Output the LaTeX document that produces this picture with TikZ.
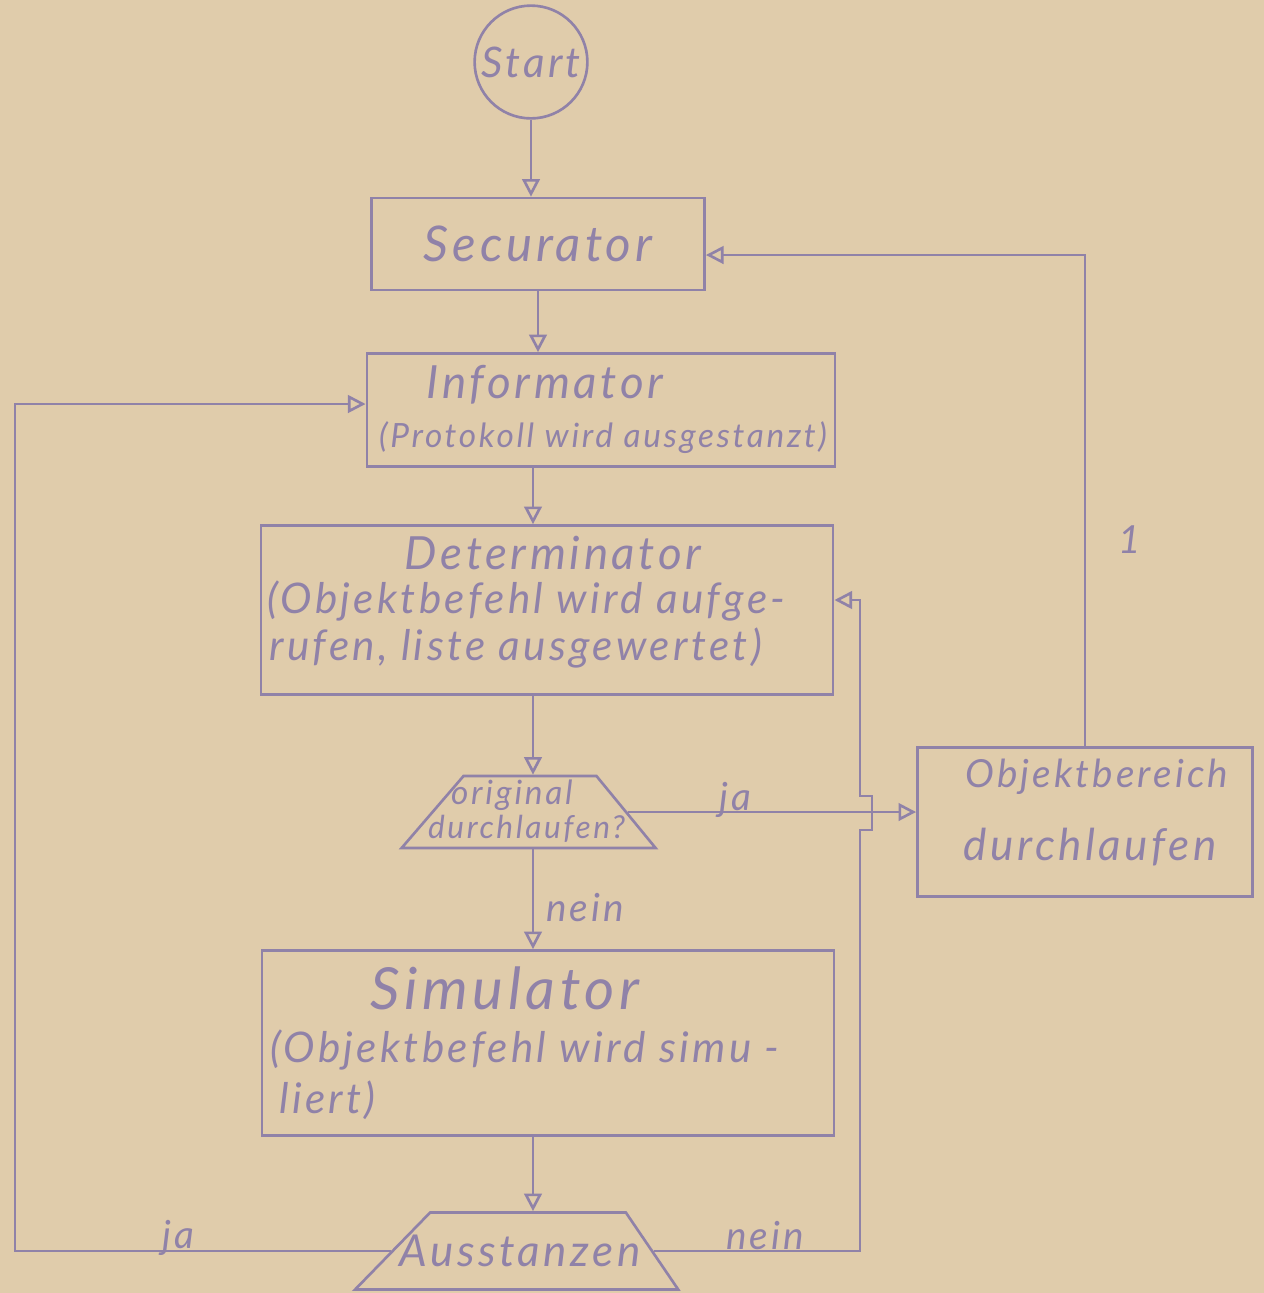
\documentclass[tikz,border=0pt]{standalone}
\usepackage{fontspec}
\usepackage{tikz}
\usetikzlibrary{arrows.meta,positioning,shapes.geometric,calc}
\newfontfamily\handfont{Lato}[LetterSpace=8]
\definecolor{PaperTan}{HTML}{E0CCAB}
\definecolor{InkViolet}{HTML}{9082A8}
\newcommand{\inkfont}[2]{\handfont\itshape\fontsize{#1}{#2}\selectfont}

\begin{document}
\begin{tikzpicture}[
  x=0.01cm, y=-0.01cm,
  ink/.style={draw=InkViolet, line width=0.75pt},
  box/.style={ink, rectangle, inner sep=0pt},
  decide/.style={ink, trapezium, trapezium stretches=true, inner sep=2pt},
  txt/.style={text=InkViolet, inner sep=1pt},
  arr/.style={ink, -{Triangle[open,length=5pt,width=5pt]}},
]

%% ── Paper ────────────────────────────────────────────────────────────────
\fill[PaperTan] (0,0) rectangle (1264,1293);
\useasboundingbox (0,0) rectangle (1264,1293);

%% ── Start / Securator / Informator ──────────────────────────────────────
\node[ink, circle, minimum size=1.08cm, inner sep=0pt, txt,
  font=\inkfont{12}{14}] (start) at (531,62) {Start};
\node[box, txt, minimum width=3.33cm, minimum height=0.92cm,
  font=\inkfont{14}{16}] (sec) at (538,244) {Securator};

\node[box, minimum width=4.68cm, minimum height=1.13cm] (inf) at (601,410) {};
\node[txt, font=\inkfont{13}{15}] (infA) at (545,385) {Informator};
\node[txt, font=\inkfont{9.5}{11}] (infB) at (603,438) {(Protokoll wird ausgestanzt)};

%% ── Determinator ─────────────────────────────────────────────────────────
\node[box, minimum width=5.72cm, minimum height=1.69cm] (det) at (547,610) {};
\node[txt, font=\inkfont{13}{15}] (detA) at (553,553) {Determinator};
\node[txt, font=\inkfont{12}{14}, anchor=west] (detB) at (263,601)
  {(Objektbefehl wird aufge-};
\node[txt, font=\inkfont{12}{14}, anchor=west] (detC) at (265,648)
  {rufen, liste ausgewertet)};

%% ── Abfrage: original durchlaufen? ───────────────────────────────────────
\node[decide, minimum width=2.54cm, minimum height=0.72cm,
  trapezium left angle=65, trapezium right angle=66] (orig) at (530,812) {};
\node[txt, font=\inkfont{9.5}{11}, anchor=west] (origA) at (447,795) {original};
\node[txt, font=\inkfont{9}{11}, anchor=west] (origB) at (424,829) {durchlaufen?};

%% ── Objektbereich ────────────────────────────────────────────────────────
\node[box, minimum width=3.35cm, minimum height=1.49cm] (objb) at (1085,822) {};
\node[txt, font=\inkfont{11}{13}] (objbA) at (1097,777) {Objektbereich};
\node[txt, font=\inkfont{12.5}{15}] (objbB) at (1090,847) {durchlaufen};

%% ── Simulator ────────────────────────────────────────────────────────────
\node[box, minimum width=5.72cm, minimum height=1.85cm] (sim) at (548,1043) {};
\node[txt, font=\inkfont{16.5}{19}] (simA) at (505,988) {Simulator};
\node[txt, font=\inkfont{12}{14}, anchor=west] (simB) at (266,1050)
  {(Objektbefehl wird simu -};
\node[txt, font=\inkfont{12}{14}, anchor=west] (simC) at (275,1100) {liert)};

%% ── Ausstanzen ───────────────────────────────────────────────────────────
\node[decide, minimum width=3.23cm, minimum height=0.77cm,
  trapezium left angle=69, trapezium right angle=75] (ausst) at (528,1251) {};
\node[txt, font=\inkfont{12.5}{14}] (ausstA) at (520,1251) {Ausstanzen};

%% ── Connectors ───────────────────────────────────────────────────────────
\coordinate (spine) at (533,0);
\coordinate (jaturn) at (15,0);
\coordinate (neinturn) at (860,0);

\draw[arr] (start.south) -- (start.south |- sec.north);
\draw[arr] (sec.south) -- (sec.south |- inf.north);
\draw[arr] (spine |- inf.south) -- (spine |- det.north);
\draw[arr] (spine |- det.south) -- (spine |- orig.north);
\draw[arr] (spine |- orig.south) -- (spine |- sim.north);
\draw[arr] (spine |- sim.south) -- (spine |- ausst.north);

\draw[arr] (orig.east) -- (orig.east -| objb.west);
\draw[arr] (objb.north) |- ($(sec.east)+(0,11)$);

\draw[arr] (ausst.east) -- (ausst.east -| neinturn)
  -- ($(orig.east -| neinturn)+(0,18)$) -- ++(12,0) -- ++(0,-34) -- ++(-12,0)
  |- ($(det.east)+(0,-10)$);
\draw[arr] (ausst.west) -- (ausst.west -| jaturn) |- ($(inf.west)+(0,-6)$);

%% ── Labels ───────────────────────────────────────────────────────────────
\node[txt, font=\inkfont{11}{13}] (jaA) at (735,800) {ja};
\node[txt, font=\inkfont{11}{13}] (neinA) at (585,908) {nein};
\node[txt, font=\inkfont{11}{13}] (jaB) at (178,1238) {ja};
\node[txt, font=\inkfont{11}{13}] (neinB) at (765,1236) {nein};
\node[txt, font=\inkfont{11}{13}] (one) at (1130,540) {1};

\end{tikzpicture}
\end{document}
